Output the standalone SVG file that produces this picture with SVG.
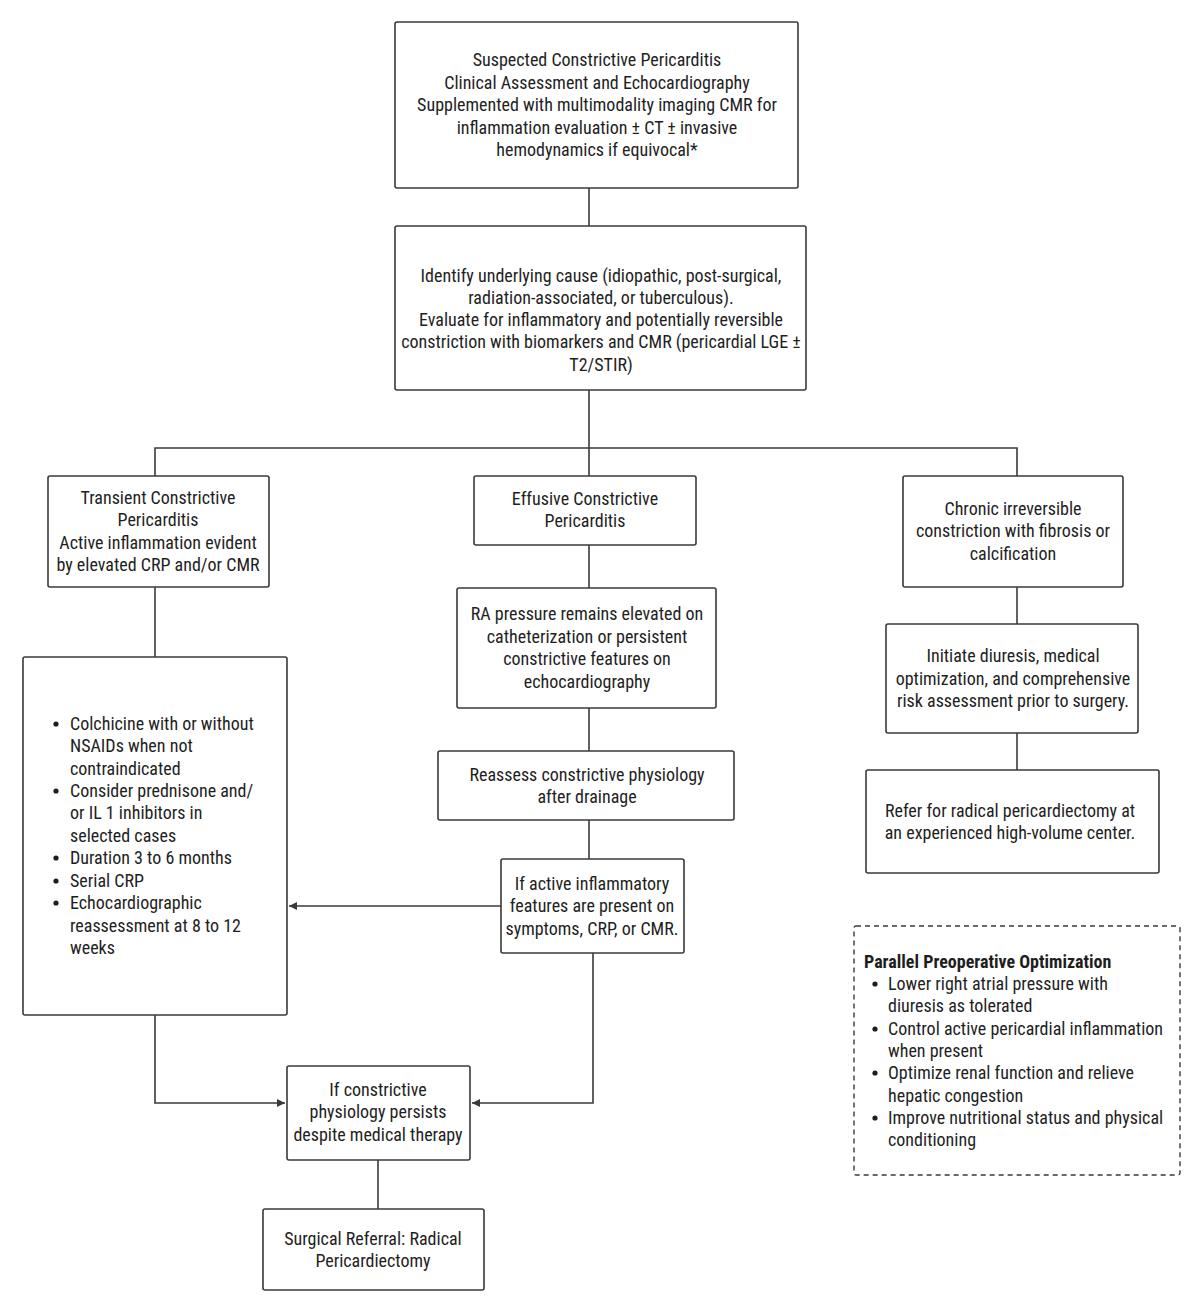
<svg xmlns="http://www.w3.org/2000/svg" width="1200" height="1312" viewBox="0 0 1200 1312">
<defs>
<style>
.box{fill:#fff;stroke:#3a3a3a;stroke-width:1.6}
.dash{fill:#fff;stroke:#3a3a3a;stroke-width:1.4;stroke-dasharray:5 4}
.t{font-family:Roboto,"Liberation Sans",sans-serif;font-size:18px;fill:#1e1e1e;font-stretch:semi-condensed}
.c{text-anchor:middle}
.b{font-weight:bold}
.ln{fill:none;stroke:#3a3a3a;stroke-width:1.6}
</style>
<marker id="ah" viewBox="0 0 10 10" refX="10" refY="5" markerWidth="8" markerHeight="8" markerUnits="userSpaceOnUse" orient="auto">
<path d="M0,0 L10,5 L0,10 z" fill="#3a3a3a"/>
</marker>
</defs>
<rect width="1200" height="1312" fill="#fff"/>
<g id="connectors">
<path class="ln" d="M589,188 V226"/>
<path class="ln" d="M589,390 V448 M155,476 V448 H1017 V476 M589,448 V476"/>
<path class="ln" d="M155,587 V657"/>
<path class="ln" d="M589,545 V588"/>
<path class="ln" d="M589,708 V751"/>
<path class="ln" d="M589,820 V859"/>
<path class="ln" d="M501,906 H289" marker-end="url(#ah)"/>
<path class="ln" d="M593,953 V1103 H472" marker-end="url(#ah)"/>
<path class="ln" d="M155,1015 V1103 H285" marker-end="url(#ah)"/>
<path class="ln" d="M378,1160 V1209"/>
<path class="ln" d="M1017,587 V624"/>
<path class="ln" d="M1017,733 V770"/>
</g>
<g id="n1">
<rect class="box" x="395" y="22" width="403" height="166" rx="2"/>
<text class="t c" x="597"><tspan x="597" y="66">Suspected Constrictive Pericarditis</tspan><tspan x="597" y="89">Clinical Assessment and Echocardiography</tspan><tspan x="597" y="111">Supplemented with multimodality imaging CMR for</tspan><tspan x="597" y="134">inflammation evaluation ± CT ± invasive</tspan><tspan x="597" y="156">hemodynamics if equivocal*</tspan></text>
</g>
<g id="n2">
<rect class="box" x="395" y="226" width="411" height="164" rx="2"/>
<text class="t c"><tspan x="601" y="282">Identify underlying cause (idiopathic, post-surgical,</tspan><tspan x="601" y="304">radiation-associated, or tuberculous).</tspan><tspan x="601" y="326">Evaluate for inflammatory and potentially reversible</tspan><tspan x="601" y="348">constriction with biomarkers and CMR (pericardial LGE ±</tspan><tspan x="601" y="371">T2/STIR)</tspan></text>
</g>
<g id="n3">
<rect class="box" x="48" y="476" width="221" height="111" rx="2"/>
<text class="t c"><tspan x="158" y="504">Transient Constrictive</tspan><tspan x="158" y="526">Pericarditis</tspan><tspan x="158" y="549">Active inflammation evident</tspan><tspan x="158" y="571">by elevated CRP and/or CMR</tspan></text>
</g>
<g id="n4">
<rect class="box" x="474" y="476" width="222" height="69" rx="2"/>
<text class="t c"><tspan x="585" y="505">Effusive Constrictive</tspan><tspan x="585" y="527">Pericarditis</tspan></text>
</g>
<g id="n5">
<rect class="box" x="903" y="476" width="220" height="111" rx="2"/>
<text class="t c"><tspan x="1013" y="515">Chronic irreversible</tspan><tspan x="1013" y="537">constriction with fibrosis or</tspan><tspan x="1013" y="560">calcification</tspan></text>
</g>
<g id="n6">
<rect class="box" x="23" y="657" width="264" height="358" rx="2"/>
<g fill="#1e1e1e"><circle cx="56" cy="724" r="2.6"/><circle cx="56" cy="791" r="2.6"/><circle cx="56" cy="858" r="2.6"/><circle cx="56" cy="881" r="2.6"/><circle cx="56" cy="903" r="2.6"/></g>
<text class="t"><tspan x="70" y="730">Colchicine with or without</tspan><tspan x="70" y="752">NSAIDs when not</tspan><tspan x="70" y="775">contraindicated</tspan><tspan x="70" y="797">Consider prednisone and/</tspan><tspan x="70" y="819">or IL 1 inhibitors in</tspan><tspan x="70" y="842">selected cases</tspan><tspan x="70" y="864">Duration 3 to 6 months</tspan><tspan x="70" y="887">Serial CRP</tspan><tspan x="70" y="909">Echocardiographic</tspan><tspan x="70" y="932">reassessment at 8 to 12</tspan><tspan x="70" y="954">weeks</tspan></text>
</g>
<g id="n7">
<rect class="box" x="457" y="588" width="259" height="120" rx="2"/>
<text class="t c"><tspan x="587" y="620">RA pressure remains elevated on</tspan><tspan x="587" y="643">catheterization or persistent</tspan><tspan x="587" y="665">constrictive features on</tspan><tspan x="587" y="688">echocardiography</tspan></text>
</g>
<g id="n8">
<rect class="box" x="438" y="751" width="296" height="69" rx="2"/>
<text class="t c"><tspan x="587" y="781">Reassess constrictive physiology</tspan><tspan x="587" y="803">after drainage</tspan></text>
</g>
<g id="n9">
<rect class="box" x="501" y="859" width="183" height="94" rx="2"/>
<text class="t c"><tspan x="592" y="890">If active inflammatory</tspan><tspan x="592" y="912">features are present on</tspan><tspan x="592" y="935">symptoms, CRP, or CMR.</tspan></text>
</g>
<g id="n10">
<rect class="box" x="287" y="1066" width="183" height="94" rx="2"/>
<text class="t c"><tspan x="378" y="1096">If constrictive</tspan><tspan x="378" y="1118">physiology persists</tspan><tspan x="378" y="1141">despite medical therapy</tspan></text>
</g>
<g id="n11">
<rect class="box" x="263" y="1209" width="221" height="81" rx="2"/>
<text class="t c"><tspan x="373" y="1245">Surgical Referral: Radical</tspan><tspan x="373" y="1267">Pericardiectomy</tspan></text>
</g>
<g id="n12">
<rect class="box" x="886" y="624" width="252" height="109" rx="2"/>
<text class="t c"><tspan x="1013" y="662">Initiate diuresis, medical</tspan><tspan x="1013" y="685">optimization, and comprehensive</tspan><tspan x="1013" y="707">risk assessment prior to surgery.</tspan></text>
</g>
<g id="n13">
<rect class="box" x="866" y="770" width="293" height="103" rx="2"/>
<text class="t c"><tspan x="1010" y="817">Refer for radical pericardiectomy at</tspan><tspan x="1010" y="839">an experienced high-volume center.</tspan></text>
</g>
<g id="n14">
<rect class="dash" x="854" y="926" width="326" height="249" rx="2"/>
<text class="t b" x="864" y="968">Parallel Preoperative Optimization</text>
<g fill="#1e1e1e"><circle cx="875" cy="984" r="2.6"/><circle cx="875" cy="1029" r="2.6"/><circle cx="875" cy="1073" r="2.6"/><circle cx="875" cy="1118" r="2.6"/></g>
<text class="t"><tspan x="888" y="990">Lower right atrial pressure with</tspan><tspan x="888" y="1012">diuresis as tolerated</tspan><tspan x="888" y="1035">Control active pericardial inflammation</tspan><tspan x="888" y="1057">when present</tspan><tspan x="888" y="1079">Optimize renal function and relieve</tspan><tspan x="888" y="1102">hepatic congestion</tspan><tspan x="888" y="1124">Improve nutritional status and physical</tspan><tspan x="888" y="1146">conditioning</tspan></text>
</g>
</svg>
